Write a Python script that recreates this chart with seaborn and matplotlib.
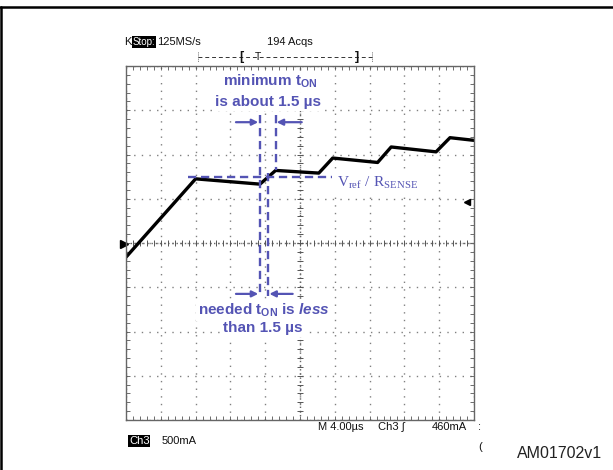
import matplotlib
matplotlib.use("Agg")
import matplotlib.pyplot as plt
import numpy as np
import seaborn as sns
from matplotlib.lines import Line2D
from matplotlib.ticker import MultipleLocator

sns.set_style("white")
plt.rcParams['font.family'] = ['Liberation Sans', 'DejaVu Sans']
plt.rcParams['mathtext.fontset'] = 'custom'
plt.rcParams['mathtext.rm'] = 'Liberation Sans:bold'
plt.rcParams['mathtext.it'] = 'Liberation Sans:italic:bold'
plt.rcParams['mathtext.bf'] = 'Liberation Sans:bold'
plt.rcParams['mathtext.sf'] = 'Liberation Serif'

# ==============================
# Trace (divisions: x 0..10, y 0..8)
# ==============================

tempo_div = [0.0, 2.0, 3.85, 4.3, 5.54, 5.94, 7.23, 7.62, 8.91, 9.31, 10.0]
corrente_div = [3.68, 5.45, 5.33, 5.64, 5.58, 5.92, 5.82, 6.17, 6.06, 6.38, 6.32]

# level Vref/Rsense and the two t_on markers
nivel_vref = 5.485
t_min_ini, t_min_fim = 3.85, 4.30
t_need_ini, t_need_fim = 3.85, 4.08

AZUL = '#5454b4'
CINZA = '#808080'

W, H = 613, 470


def fx(x):
    return x / W


def fy(y):
    return 1 - y / H


fig = plt.figure(figsize=(W / 100, H / 100), dpi=100)
ax = fig.add_axes([126 / W, 50 / H, 348 / W, 354 / H])

# ==============================
# Screen grid
# ==============================

ax.set_xlim(0, 10)
ax.set_ylim(0, 8)
ax.set_xticks(np.arange(0, 11))
ax.set_yticks(np.arange(0, 9))
ax.set_xticklabels([])
ax.set_yticklabels([])
ax.xaxis.set_minor_locator(MultipleLocator(0.2))
ax.yaxis.set_minor_locator(MultipleLocator(0.2))
ax.tick_params(which='both', direction='in', top=True, right=True,
               bottom=True, left=True, length=3, width=0.6, color='#555555')
ax.grid(True, which='major', ls=(0, (1, 4.5)), lw=1, color=CINZA)
for s in ax.spines.values():
    s.set_color('#666666')
    s.set_linewidth(1)

# center cross with small ticks
ax.axhline(4, ls=(0, (1, 2)), lw=1, color='#666666')
ax.axvline(5, ls=(0, (1, 2)), lw=1, color='#666666')
marcas = np.arange(0, 10.01, 0.2)
ax.plot(marcas, np.full(len(marcas), 4.0), ls='none', marker='|', ms=4,
        mew=0.7, color='#555555')
marcas_y = np.arange(0, 8.01, 0.2)
ax.plot(np.full(len(marcas_y), 5.0), marcas_y, ls='none', marker='_', ms=4,
        mew=0.7, color='#555555')

# ==============================
# Current trace
# ==============================

sns.lineplot(x=tempo_div, y=corrente_div, ax=ax, color='black', lw=2.4)

# channel marker (left) and trigger level (right)
ax.plot([-0.06], [3.98], marker='>', ms=6, color='black', clip_on=False)
ax.plot([9.8], [4.93], marker='<', ms=5, color='black', clip_on=False)

# ==============================
# Annotations
# ==============================

tracejado = dict(color=AZUL, lw=1.7, ls=(0, (3.5, 2)), clip_on=False, zorder=4)
ax.plot([1.79, 5.91], [nivel_vref, nivel_vref], **tracejado)
ax.plot([t_min_ini, t_min_ini], [6.89, 2.80], **tracejado)
ax.plot([t_min_fim, t_min_fim], [6.89, 5.65], **tracejado)
ax.plot([t_need_fim, t_need_fim], [5.58, 2.80], **tracejado)

seta = dict(arrowstyle='-|>', color=AZUL, lw=1.6, mutation_scale=9,
            shrinkA=0, shrinkB=0)
ax.annotate('', xy=(t_min_ini - 0.05, 6.73), xytext=(3.16, 6.73), arrowprops=seta)
ax.annotate('', xy=(t_min_fim + 0.03, 6.73), xytext=(5.05, 6.73), arrowprops=seta)
ax.annotate('', xy=(t_need_ini - 0.05, 2.85), xytext=(3.16, 2.85), arrowprops=seta)
ax.annotate('', xy=(t_need_fim + 0.04, 2.85), xytext=(4.79, 2.85), arrowprops=seta)

fundo = dict(facecolor='white', edgecolor='none', pad=1.5)
texto = dict(color=AZUL, fontsize=11, fontweight='bold', ha='center',
             va='center', bbox=fundo, zorder=3)
ax.text(4.14, 7.65, r'minimum t$_{\mathrm{ON}}$', **texto)
ax.text(4.07, 7.19, 'is about 1.5 µs', **texto)
ax.text(3.96, 2.49, r'needed t$_{\mathrm{ON}}$ is $\mathit{less}$', **texto)
ax.text(3.92, 2.09, 'than 1.5 µs', **texto)
ax.text(6.05, 5.35, r'$\mathsf{V_{ref}\ /\ R_{SENSE}}$', color=AZUL,
        fontsize=11, ha='left', va='center', bbox=fundo, zorder=3)

# ==============================
# Scope readouts
# ==============================

leitura = dict(fontsize=8, color='#111111', va='center')
fig.text(fx(124), fy(42), 'K', **leitura)
fig.text(fx(133), fy(42), 'Stop:', **{**leitura, 'color': 'white', 'fontsize': 7},
         bbox=dict(facecolor='black', edgecolor='none', pad=0.5))
fig.text(fx(157), fy(42), '125MS/s', **leitura)
fig.text(fx(267), fy(42), '194 Acqs', **leitura)

fig.add_artist(Line2D([fx(197.6), fx(371.7)], [fy(57), fy(57)], lw=0.7,
                      ls=(0, (4, 3)), color='#333333', transform=fig.transFigure))
for xb in (197.6, 371.7):
    fig.add_artist(Line2D([fx(xb), fx(xb)], [fy(52), fy(62)], lw=0.6,
                          ls=(0, (1, 1.5)), color='#333333',
                          transform=fig.transFigure))
fig.text(fx(241.4), fy(57), '[', **{**leitura, 'ha': 'center', 'fontweight': 'bold',
                                   'fontsize': 9})
fig.text(fx(258), fy(57), 'T', **{**leitura, 'ha': 'center', 'fontsize': 7.5})
fig.text(fx(356.8), fy(57), ']', **{**leitura, 'ha': 'center', 'fontweight': 'bold',
                                   'fontsize': 9})

fig.text(fx(318), fy(427), 'M 4.00µs', **leitura)
fig.text(fx(378), fy(427), 'Ch3 \u222b', **leitura)
fig.text(fx(432), fy(427), '460mA', **leitura)
fig.text(fx(478), fy(427), ':', **leitura)
fig.text(fx(478), fy(447), '(', **leitura)

fig.text(fx(129), fy(441), 'Ch3', **{**leitura, 'color': 'white'},
         bbox=dict(facecolor='black', edgecolor='none', pad=0.6))
fig.text(fx(162), fy(441), '500mA', **leitura)

fig.text(fx(517), fy(454), 'AM01702v1', fontsize=11.5, color='#222222',
         va='center', ha='left')

# page frame (top and left edges only)
fig.add_artist(Line2D([0, 1], [fy(7), fy(7)], lw=1.8, color='black',
                      transform=fig.transFigure))
fig.add_artist(Line2D([fx(0.8), fx(0.8)], [0, fy(7)], lw=1.8, color='black',
                      transform=fig.transFigure))

fig.savefig('out.png', dpi=100)
